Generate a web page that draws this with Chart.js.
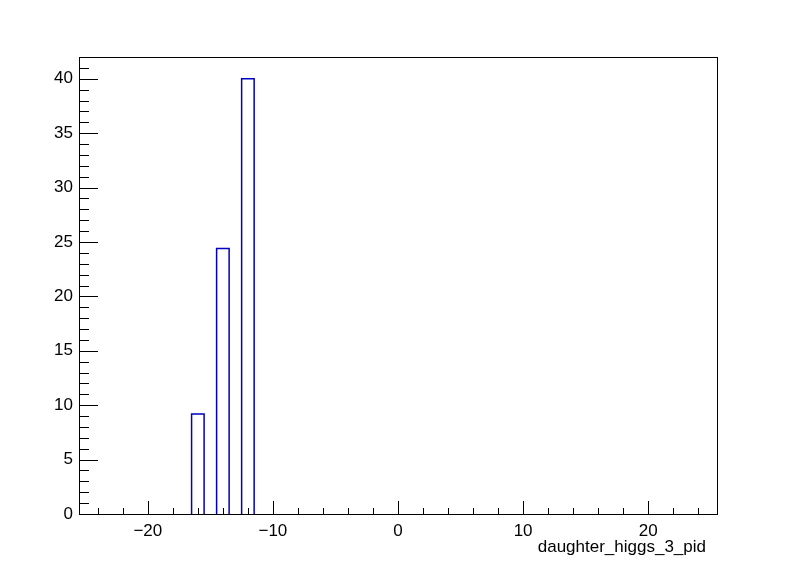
<!DOCTYPE html>
<html>
<head>
<meta charset="utf-8">
<title>daughter_higgs_3_pid</title>
<script src="https://cdn.jsdelivr.net/npm/chart.js@4.4.1/dist/chart.umd.min.js"></script>
<style>
    html, body { margin: 0; padding: 0; background: #ffffff; }
    #wrap { width: 796px; height: 572px; }
</style>
</head>
<body>
<div id="wrap"><canvas id="histo" width="796" height="572"></canvas></div>
<script>
// histogram bins (center of each filled bin) and their contents
const binCenters = [-16, -14, -12];
const binContents = [9.2, 24.4, 40];
const binWidth = 1;

// axis ranges and labelled ticks
const xRange = [-25.5, 25.5];
const yRange = [0, 42];
const xTickLabels = [-20, -10, 0, 10, 20];
const yTickLabels = [0, 5, 10, 15, 20, 25, 30, 35, 40];
const xTitle = "daughter_higgs_3_pid";

const lineBlue = "#0000c0";
const fontFamily = "'Liberation Sans', Arial, Helvetica, sans-serif";
const fontSize = 17;

// outline of each bar, gaps between bins so nothing is drawn along zero
function buildOutline() {
    let pts = [];
    binCenters.forEach((c, i) => {
        let lo = c - binWidth / 2;
        let hi = c + binWidth / 2;
        let h = binContents[i];
        pts.push({x: lo, y: 0}, {x: lo, y: h}, {x: hi, y: h}, {x: hi, y: 0});
        pts.push({x: hi, y: null});
    });
    return pts;
}

function minusSign(v) {
    return v < 0 ? "\u2212" + Math.abs(v) : String(v);
}

// ROOT style frame with inside tick marks, x title under the right end
const rootFrame = {
    id: "rootFrame",
    afterDatasetsDraw(chart) {
        const {ctx, chartArea: a, scales: {x, y}} = chart;
        ctx.save();
        ctx.strokeStyle = "#000000";
        ctx.lineWidth = 1;
        ctx.strokeRect(Math.round(a.left) + 0.5, Math.round(a.top) + 0.5,
            Math.round(a.right - a.left), Math.round(a.bottom - a.top));

        ctx.beginPath();
        for (let v = -24; v <= 24; v += 2) {
            let px = Math.round(x.getPixelForValue(v)) + 0.5;
            let len = v % 10 === 0 ? 13 : 6;
            ctx.moveTo(px, a.bottom);
            ctx.lineTo(px, a.bottom - len);
        }
        for (let v = 1; v <= 41; v += 1) {
            let py = Math.round(y.getPixelForValue(v)) + 0.5;
            let len = v % 5 === 0 ? 19 : 10;
            ctx.moveTo(a.left, py);
            ctx.lineTo(a.left + len, py);
        }
        ctx.stroke();

        ctx.fillStyle = "#000000";
        ctx.font = fontSize + "px " + fontFamily;
        ctx.textAlign = "right";
        ctx.textBaseline = "middle";
        ctx.fillText(xTitle, a.right - 11, 547);
        ctx.restore();
    }
};

new Chart(document.getElementById("histo"), {
    type: "scatter",
    data: {
        datasets: [{
            label: xTitle,
            data: buildOutline(),
            showLine: true,
            spanGaps: false,
            borderColor: lineBlue,
            borderWidth: 1.5,
            pointRadius: 0,
            fill: false,
            tension: 0
        }]
    },
    options: {
        responsive: false,
        animation: false,
        layout: {padding: {top: 57, right: 79, left: 0, bottom: 0}},
        plugins: {
            legend: {display: false},
            tooltip: {enabled: false}
        },
        scales: {
            x: {
                type: "linear",
                min: xRange[0],
                max: xRange[1],
                afterBuildTicks: s => { s.ticks = xTickLabels.map(v => ({value: v})); },
                afterFit: s => { s.height = 58; },
                grid: {display: false, drawTicks: false},
                border: {display: false},
                ticks: {
                    color: "#000000",
                    padding: 7,
                    maxRotation: 0,
                    font: {family: fontFamily, size: fontSize},
                    callback: v => minusSign(v)
                }
            },
            y: {
                type: "linear",
                min: yRange[0],
                max: yRange[1],
                afterBuildTicks: s => { s.ticks = yTickLabels.map(v => ({value: v})); },
                afterFit: s => { s.width = 79; },
                grid: {display: false, drawTicks: false},
                border: {display: false},
                ticks: {
                    color: "#000000",
                    padding: 6,
                    font: {family: fontFamily, size: fontSize},
                    callback: v => minusSign(v)
                }
            }
        }
    },
    plugins: [rootFrame]
});
</script>
</body>
</html>
